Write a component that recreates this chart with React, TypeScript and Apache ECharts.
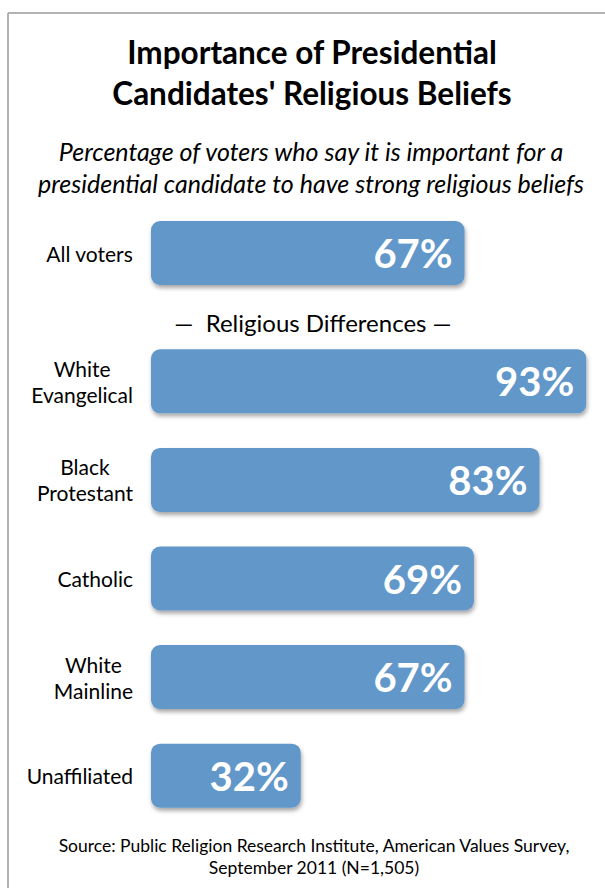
import React, { useEffect, useRef } from "react";
import * as echarts from "echarts";

const overallCategories = ["All voters"];
const overallValues = [67];
const groupCategories = ["White\nEvangelical", "Black\nProtestant", "Catholic", "White\nMainline", "Unaffiliated"];
const groupValues = [93, 83, 69, 67, 32];

const titleLines = "Importance of Presidential\nCandidates' Religious Beliefs";
const subtitleLines = "Percentage of voters who say it is important for a\npresidential candidate to have strong religious beliefs";
const dividerText = "—  Religious Differences —";
const sourceLines = "Source: Public Religion Research Institute, American Values Survey,\nSeptember 2011 (N=1,505)";

const FONT = "Lato, 'Open Sans', sans-serif";
const BAR_COLOR = "#6297CA";

export default function App() {
  const ref = useRef<HTMLDivElement>(null);
  useEffect(() => {
    document.body.style.margin = "0";
    const chart = echarts.init(ref.current!, undefined, { renderer: "svg" });
    const barStyle = {
      color: BAR_COLOR,
      borderRadius: 9,
      shadowBlur: 4,
      shadowColor: "rgba(0,0,0,0.35)",
      shadowOffsetX: 1,
      shadowOffsetY: 3,
    };
    const label = {
      show: true,
      position: "insideRight",
      distance: 12,
      formatter: "{c}%",
      color: "#fff",
      fontFamily: FONT,
      fontWeight: "bold",
      fontSize: 40,
    };
    const yLabel = {
      fontFamily: FONT,
      fontSize: 21,
      color: "#000",
      margin: 18,
      align: "right",
      formatter: (v: string) => v.split("\n").map((s) => `{c|${s}}`).join("\n"),
      rich: { c: { align: "center", fontFamily: FONT, fontSize: 21, lineHeight: 26, color: "#000" } },
    };
    chart.setOption({
      animation: false,
      backgroundColor: "#fff",
      grid: [
        { left: 151, width: 454, top: 204, height: 98 },
        { left: 151, width: 454, top: 332, height: 493 },
      ],
      xAxis: [
        { type: "value", gridIndex: 0, min: 0, max: 97, show: false },
        { type: "value", gridIndex: 1, min: 0, max: 97, show: false },
      ],
      yAxis: [
        {
          type: "category", gridIndex: 0, data: overallCategories, inverse: true,
          axisLine: { show: false }, axisTick: { show: false }, axisLabel: yLabel,
        },
        {
          type: "category", gridIndex: 1, data: groupCategories, inverse: true,
          axisLine: { show: false }, axisTick: { show: false }, axisLabel: yLabel,
        },
      ],
      series: [
        { type: "bar", xAxisIndex: 0, yAxisIndex: 0, data: overallValues, barWidth: 64, itemStyle: barStyle, label },
        { type: "bar", xAxisIndex: 1, yAxisIndex: 1, data: groupValues, barWidth: 64, itemStyle: barStyle, label },
      ],
      graphic: [
        { type: "line", shape: { x1: 8, y1: 13, x2: 605, y2: 13 }, style: { stroke: "#9a9a9a", lineWidth: 1.5 } },
        { type: "line", shape: { x1: 8, y1: 13, x2: 8, y2: 888 }, style: { stroke: "#9a9a9a", lineWidth: 1.5 } },
        {
          type: "text", x: 312, y: 31,
          style: { text: titleLines, textAlign: "center", textVerticalAlign: "top", fontFamily: FONT, fontWeight: "bold", fontSize: 31.5, lineHeight: 41, fill: "#000" },
        },
        {
          type: "text", x: 311, y: 135,
          style: { text: subtitleLines, textAlign: "center", textVerticalAlign: "top", fontFamily: FONT, fontStyle: "italic", fontSize: 25, lineHeight: 32, fill: "#000" },
        },
        {
          type: "text", x: 313, y: 322,
          style: { text: dividerText, textAlign: "center", textVerticalAlign: "middle", fontFamily: FONT, fontSize: 24, fill: "#000" },
        },
        {
          type: "text", x: 314, y: 834,
          style: { text: sourceLines, textAlign: "center", textVerticalAlign: "top", fontFamily: FONT, fontSize: 17.5, lineHeight: 22, fill: "#000" },
        },
      ],
    });
    return () => chart.dispose();
  }, []);
  return <div ref={ref} style={{ width: 605, height: 888 }} />;
}
